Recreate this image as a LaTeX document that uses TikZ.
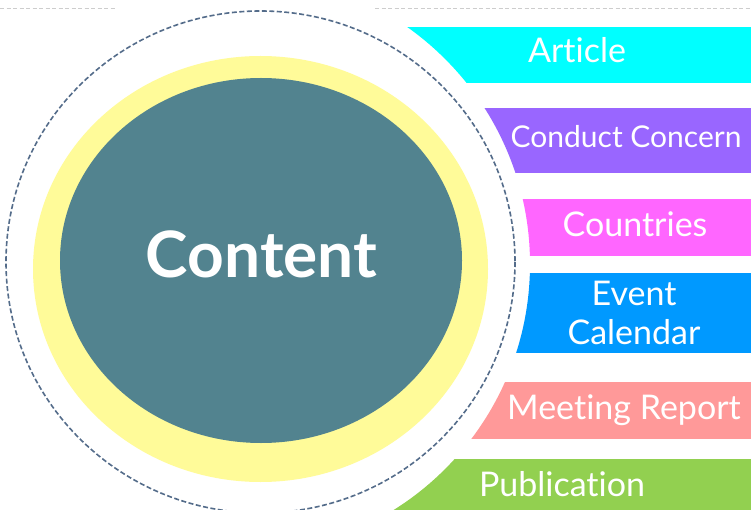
\documentclass[tikz,border=0pt]{standalone}
\usepackage{fontspec}
\setmainfont{Lato}[Ligatures={NoCommon,NoContextual}]
\usetikzlibrary{positioning}
\definecolor{aqua}{RGB}{0,255,255}
\definecolor{lavender}{RGB}{153,102,255}
\definecolor{orchid}{RGB}{255,102,255}
\definecolor{azure}{RGB}{0,153,255}
\definecolor{salmon}{RGB}{255,153,153}
\definecolor{grass}{RGB}{146,208,80}
\definecolor{petrol}{RGB}{82,131,143}
\definecolor{paleyellow}{RGB}{255,251,153}
\definecolor{slate}{RGB}{84,108,138}
\definecolor{lightline}{RGB}{205,205,205}

\begin{document}
\begin{tikzpicture}[x=1pt, y=-1pt,
    bar_text/.style={
        text=white,
        font=\fontsize{34}{39}\selectfont,
        inner sep=0pt,
        anchor=base
        },
    ring_dashed/.style={
        draw=slate,
        line width=1.6pt,
        dash pattern=on 5pt off 2.5pt
        },
    top_line/.style={
        draw=lightline,
        line width=0.9pt,
        dash pattern=on 4pt off 2.5pt
        },
    ]
    \useasboundingbox (0,0) rectangle (751,510);
    \fill[white] (0,0) rectangle (751,510);

    \draw[top_line] (0,8) -- (115,8);
    \draw[top_line] (375,8) -- (751,8);

    % bars, cut by a circle on the left
    \begin{scope}[even odd rule]
        \clip (0,0) rectangle (751,510) (240,264) circle (290);
        \fill[aqua] (380,27) rectangle (751,83);
        \fill[lavender] (380,108) rectangle (751,173);
        \fill[orchid] (380,199) rectangle (751,256);
        \fill[azure] (380,273) rectangle (751,353);
        \fill[salmon] (380,382) rectangle (751,439);
        \fill[grass] (380,459) rectangle (751,515);
    \end{scope}

    \fill[paleyellow] (260.5,269) ellipse [x radius=227.5, y radius=213];
    \fill[petrol] (261,260.5) ellipse [x radius=201, y radius=182.5];
    \draw[ring_dashed] (260.5,262) ellipse [x radius=254.5, y radius=251];

    \node[text=white, font=\fontsize{64}{70}\selectfont\bfseries, inner sep=0pt, anchor=base] (content) at (261.5,277) {Content};

    \node[bar_text] (article) at (577,63) {Article};
    \node[bar_text, font=\fontsize{30}{34}\selectfont] (conduct) at (626,148) {Conduct Concern};
    \node[bar_text] (countries) at (635,237) {Countries};
    \node[bar_text, anchor=center, align=center] (event) at (634,313) {Event\\Calendar};
    \node[bar_text] (meeting) at (624,419) {Meeting Report};
    \node[bar_text] (publication) at (562,496) {Publication};

\end{tikzpicture}
\end{document}
